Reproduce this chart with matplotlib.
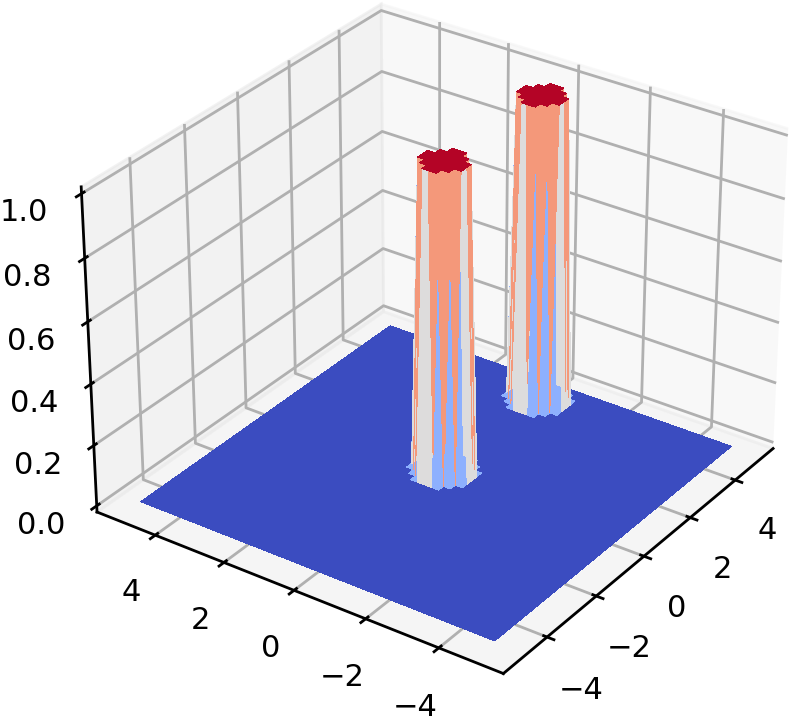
import numpy as np
import matplotlib
matplotlib.use("Agg")
import matplotlib.pyplot as plt
from matplotlib import cm

plt.rcParams["grid.linewidth"] = 1.0
plt.rcParams["axes.linewidth"] = 1.0
plt.rcParams["xtick.major.width"] = 1.0
plt.rcParams["ytick.major.width"] = 1.0
plt.rcParams["font.size"] = 11

# grid node coordinates
x_nodes = np.linspace(-5, 5, 51)
y_nodes = np.linspace(-5, 5, 51)

# raised nodes (z = 1): for each pillar, x index -> (first y index, last y index)
pillar_near = {23: (24, 26), 24: (23, 27), 25: (22, 28), 26: (22, 28),
               27: (22, 28), 28: (23, 27), 29: (24, 26)}
pillar_far = {43: (24, 26), 44: (23, 27), 45: (22, 28), 46: (22, 28),
              47: (22, 28), 48: (23, 27), 49: (24, 26)}
floor_level = 0.0
top_level = 1.0
x_ticks = [-4, -2, 0, 2, 4]
y_ticks = [-4, -2, 0, 2, 4]
z_ticks = [0.0, 0.2, 0.4, 0.6, 0.8, 1.0]

X, Y = np.meshgrid(x_nodes, y_nodes, indexing="ij")
Z = np.full(X.shape, floor_level)
for pillar in (pillar_near, pillar_far):
    for i, (j0, j1) in pillar.items():
        Z[i, j0:j1 + 1] = top_level

fig = plt.figure(figsize=(789 / 200, 724 / 200), dpi=200)
ax = fig.add_axes([0.011, 0.008, 1.065, 1.065], projection="3d")
ax.plot_surface(X, Y, Z, rstride=1, cstride=1, cmap=cm.coolwarm, linewidth=0, antialiased=False)
ax.view_init(elev=30, azim=215)
ax.set_xticks(x_ticks)
ax.set_yticks(y_ticks)
ax.set_zticks(z_ticks)
fig.savefig("out.png", dpi=200)
